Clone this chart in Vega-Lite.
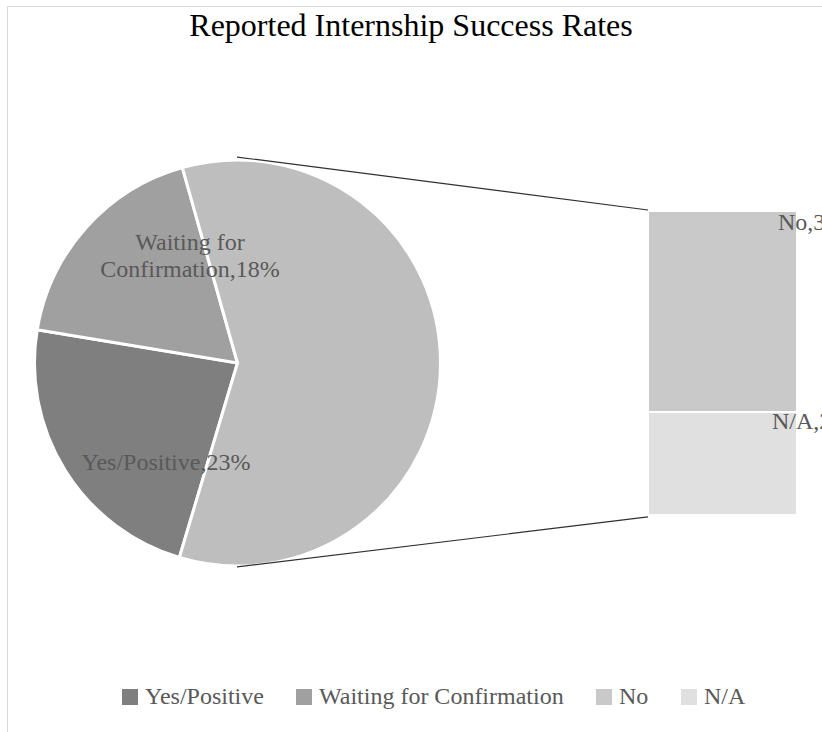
{
  "$schema": "https://vega.github.io/schema/vega-lite/v6.json",
  "width": 822,
  "height": 732,
  "autosize": {"type": "none"},
  "padding": {"left": 7, "top": 6, "right": 0, "bottom": 0},
  "background": "white",
  "title": {"text": "Reported Internship Success Rates", "offset": -21, "baseline": "alphabetic", "dx": -7, "dy": 41, "fontSize": 32, "font": "Liberation Serif", "fontWeight": "normal", "color": "#000000", "anchor": "middle"},
  "config": {"view": {"stroke": "#d9d9d9", "strokeWidth": 1}, "font": "Liberation Serif"},
  "data": {"values": [
    {"category": "Yes/Positive", "value": 23, "part": "pie"},
    {"category": "Waiting for Confirmation", "value": 18, "part": "pie"},
    {"category": "No", "value": 39, "part": "bar"},
    {"category": "N/A", "value": 20, "part": "bar"}
  ]},
  "layer": [
    {
      "transform": [
        {"calculate": "datum.part == 'bar' ? 'Other' : datum.category", "as": "slice"},
        {"aggregate": [{"op": "sum", "field": "value", "as": "total"}], "groupby": ["slice"]}
      ],
      "mark": {"type": "arc", "outerRadius": 203, "stroke": "white", "strokeWidth": 3},
      "encoding": {
        "theta": {"field": "total", "type": "quantitative", "stack": true, "scale": {"range": [-0.275, 6.008]}},
        "order": {"field": "total", "sort": "descending"},
        "x": {"datum": 28.04, "type": "quantitative", "scale": {"domain": [0, 100], "nice": false, "zero": false}, "axis": null},
        "y": {"datum": 29.5, "type": "quantitative", "scale": {"domain": [-43.3, 98.8], "nice": false, "zero": false}, "axis": null},
        "color": {
          "field": "slice", "type": "nominal",
          "scale": {"domain": ["Yes/Positive", "Waiting for Confirmation", "No", "N/A", "Other"], "range": ["#7f7f7f", "#a0a0a0", "#c9c9c9", "#e0e0e0", "#bebebe"]},
          "legend": {"values": ["Yes/Positive", "Waiting for Confirmation", "No", "N/A"], "orient": "none", "legendX": 111, "legendY": 679, "direction": "horizontal", "columns": 4, "title": null, "symbolType": "square", "symbolSize": 256, "symbolStrokeWidth": 0, "labelFontSize": 24, "labelColor": "#595959", "labelFont": "Liberation Serif", "labelLimit": 500, "columnPadding": 28, "labelOffset": 3, "padding": 0}
        }
      }
    },
    {
      "transform": [
        {"filter": "datum.part == 'bar'"},
        {"stack": "value", "groupby": [], "sort": [{"field": "value", "order": "ascending"}], "as": ["y0", "y1"]}
      ],
      "mark": {"type": "rect", "stroke": "white", "strokeWidth": 2},
      "encoding": {
        "x": {"datum": 77.98, "type": "quantitative"},
        "x2": {"datum": 96.11},
        "y": {"field": "y0", "type": "quantitative"},
        "y2": {"field": "y1"},
        "color": {
          "field": "category", "type": "nominal",
          "scale": {"domain": ["Yes/Positive", "Waiting for Confirmation", "No", "N/A", "Other"], "range": ["#7f7f7f", "#a0a0a0", "#c9c9c9", "#e0e0e0", "#bebebe"]},
          "legend": {"values": ["Yes/Positive", "Waiting for Confirmation", "No", "N/A"], "orient": "none", "legendX": 111, "legendY": 679, "direction": "horizontal", "columns": 4, "title": null, "symbolType": "square", "symbolSize": 256, "symbolStrokeWidth": 0, "labelFontSize": 24, "labelColor": "#595959", "labelFont": "Liberation Serif", "labelLimit": 500, "columnPadding": 28, "labelOffset": 3, "padding": 0}
        }
      }
    },
    {
      "data": {"values": [{"edge": "top"}]},
      "mark": {"type": "rule", "color": "#303030", "strokeWidth": 1.2},
      "encoding": {
        "x": {"datum": 27.98, "type": "quantitative"},
        "y": {"datum": 69.48, "type": "quantitative"},
        "x2": {"datum": 77.98},
        "y2": {"datum": 59.2}
      }
    },
    {
      "data": {"values": [{"edge": "bottom"}]},
      "mark": {"type": "rule", "color": "#303030", "strokeWidth": 1.2},
      "encoding": {
        "x": {"datum": 27.98, "type": "quantitative"},
        "y": {"datum": -10.09, "type": "quantitative"},
        "x2": {"datum": 77.98},
        "y2": {"datum": -0.39}
      }
    },
    {
      "transform": [
        {"filter": "datum.category == 'Waiting for Confirmation'"},
        {"calculate": "replace(datum.category, ' Confirmation', '\\nConfirmation') + ',' + datum.value + '%'", "as": "label"}
      ],
      "mark": {"type": "text", "fontSize": 24, "color": "#595959", "lineBreak": "\n", "lineHeight": 27, "baseline": "middle", "align": "center"},
      "encoding": {
        "x": {"datum": 22.26, "type": "quantitative"},
        "y": {"datum": 52.79, "type": "quantitative"},
        "text": {"field": "label", "type": "nominal"}
      }
    },
    {
      "transform": [
        {"filter": "datum.category == 'Yes/Positive'"},
        {"calculate": "datum.category + ',' + datum.value + '%'", "as": "label"}
      ],
      "mark": {"type": "text", "fontSize": 24, "color": "#595959", "baseline": "middle", "align": "center"},
      "encoding": {
        "x": {"datum": 19.34, "type": "quantitative"},
        "y": {"datum": 10.1, "type": "quantitative"},
        "text": {"field": "label", "type": "nominal"}
      }
    },
    {
      "transform": [
        {"filter": "datum.part == 'bar'"},
        {"stack": "value", "groupby": [], "sort": [{"field": "value", "order": "ascending"}], "as": ["y0", "y1"]},
        {"filter": "datum.category == 'No'"},
        {"calculate": "datum.category + ',' + datum.value + '%'", "as": "label"}
      ],
      "mark": {"type": "text", "fontSize": 24, "color": "#595959", "baseline": "middle", "align": "left", "dy": 12},
      "encoding": {
        "x": {"datum": 93.8, "type": "quantitative"},
        "y": {"field": "y1", "type": "quantitative"},
        "text": {"field": "label", "type": "nominal"}
      }
    },
    {
      "transform": [
        {"filter": "datum.part == 'bar'"},
        {"stack": "value", "groupby": [], "sort": [{"field": "value", "order": "ascending"}], "as": ["y0", "y1"]},
        {"filter": "datum.category == 'N/A'"},
        {"calculate": "datum.category + ',' + datum.value + '%'", "as": "label"}
      ],
      "mark": {"type": "text", "fontSize": 24, "color": "#595959", "baseline": "middle", "align": "left", "dy": 10},
      "encoding": {
        "x": {"datum": 93.07, "type": "quantitative"},
        "y": {"field": "y1", "type": "quantitative"},
        "text": {"field": "label", "type": "nominal"}
      }
    }
  ]
}
